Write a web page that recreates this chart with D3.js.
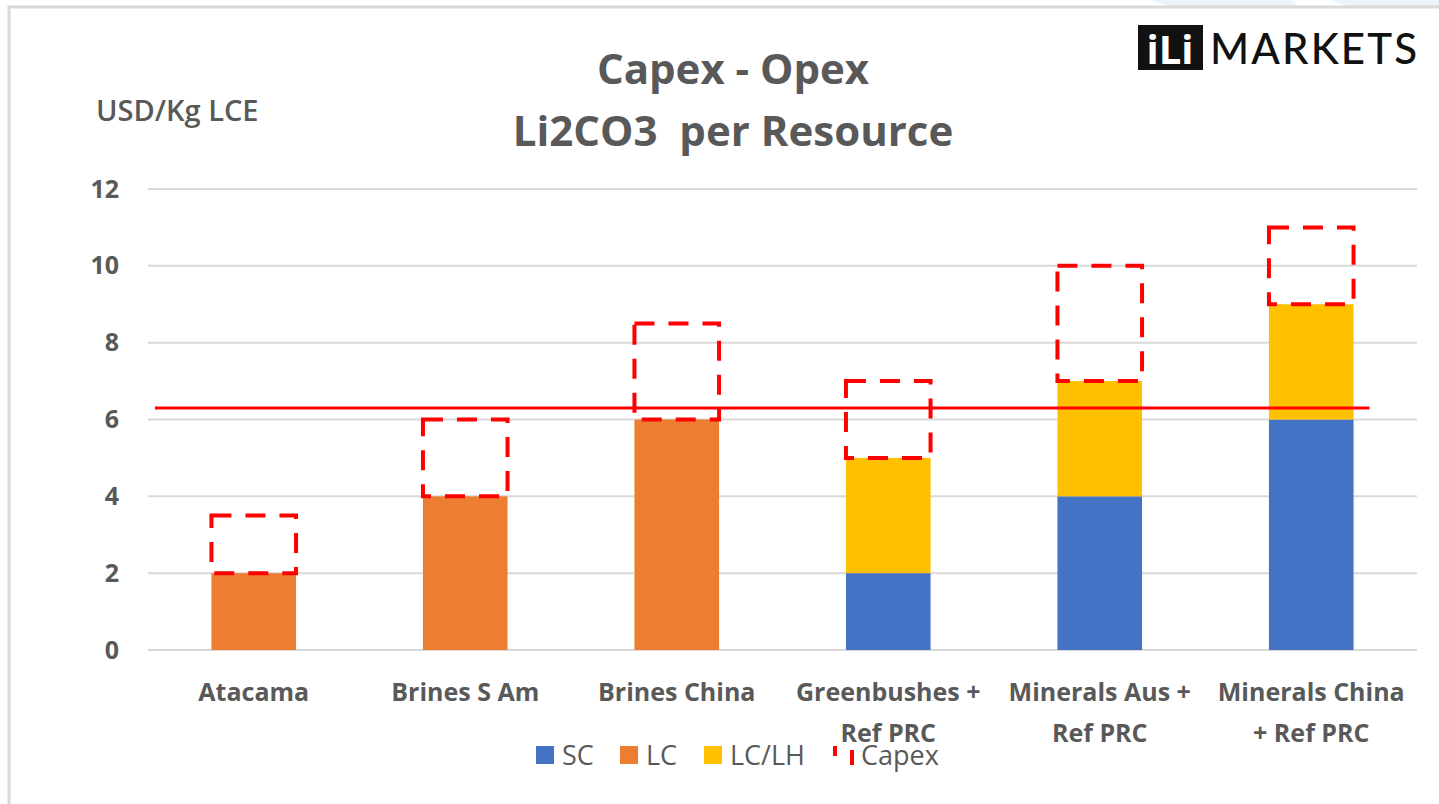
<!DOCTYPE html>
<meta charset="utf-8">
<script src="https://d3js.org/d3.v7.min.js"></script>
<style>
  body { margin: 0; background: #fff; }
  text { font-family: "Open Sans", "Noto Sans", sans-serif; }
</style>
<body>
<div id="chart"></div>
<script>
    // data
    const categories = [
        ["Atacama"],
        ["Brines S Am"],
        ["Brines China"],
        ["Greenbushes +", "Ref PRC"],
        ["Minerals Aus +", "Ref PRC"],
        ["Minerals China", "+ Ref PRC"]
    ];
    const scValues = [0, 0, 0, 2, 4, 6];
    const lcValues = [2, 4, 6, 0, 0, 0];
    const lclhValues = [0, 0, 0, 3, 3, 3];
    const capexValues = [1.5, 2, 2.5, 2, 3, 2];
    const yTicks = [0, 2, 4, 6, 8, 10, 12];
    const refLevel = 6.3;

    const seriesNames = ["SC", "LC", "LC/LH", "Capex"];
    const colours = {"SC": "#4472C4", "LC": "#ED7D31", "LC/LH": "#FFC000", "Capex": "#FF0000"};

    const width = 1439, height = 804;
    const margin = {top: 189, right: 22, bottom: 154, left: 148};

    const svg = d3.select("#chart")
        .append("svg")
        .attr("width", width)
        .attr("height", height);

    // background wedges + frame
    svg.append("path")
        .attr("d", "M1150,0 L1290,0 L1300,7 L1170,7 Z M1330,0 L1439,0 L1439,7 L1350,7 Z")
        .style("fill", "#eaf4fa");
    svg.append("rect")
        .attr("x", 9).attr("y", 7)
        .attr("width", 1500).attr("height", 900)
        .style("fill", "none")
        .style("stroke", "#d9d9d9")
        .style("stroke-width", 3);

    const table = categories.map(function (c, i) {
        return {key: i, label: c, SC: scValues[i], LC: lcValues[i], "LC/LH": lclhValues[i], Capex: capexValues[i]};
    });

    const x = d3.scaleBand()
        .domain(table.map(d => d.key))
        .range([margin.left, width - margin.right])
        .paddingInner(0.6)
        .paddingOuter(0.3);

    const y = d3.scaleLinear()
        .domain([0, 12])
        .range([height - margin.bottom, margin.top]);

    // gridlines
    svg.append("g")
        .selectAll("line")
        .data(yTicks)
        .enter()
        .append("line")
        .attr("x1", margin.left)
        .attr("x2", width - margin.right)
        .attr("y1", d => y(d))
        .attr("y2", d => y(d))
        .style("stroke", "#d9d9d9")
        .style("stroke-width", 2);

    // y axis labels
    const yAxis = svg.append("g")
        .attr("transform", "translate(" + (margin.left - 29) + ",0)")
        .call(d3.axisLeft(y).tickValues(yTicks).tickSize(0).tickPadding(0));
    yAxis.select(".domain").remove();
    yAxis.selectAll("text")
        .style("font-family", "'Open Sans', sans-serif")
        .style("font-size", "25px")
        .style("font-weight", "bold")
        .style("fill", "#595959");

    // stacked bars
    const stack = d3.stack().keys(seriesNames);
    const layers = stack(table);

    const solid = layers.filter(l => l.key !== "Capex");
    svg.append("g")
        .selectAll("g")
        .data(solid)
        .enter()
        .append("g")
        .style("fill", d => colours[d.key])
        .selectAll("rect")
        .data(d => d)
        .enter()
        .append("rect")
        .attr("x", d => x(d.data.key))
        .attr("y", d => y(d[1]))
        .attr("width", x.bandwidth())
        .attr("height", d => y(d[0]) - y(d[1]));

    const capexLayer = layers.find(l => l.key === "Capex");
    svg.append("g")
        .selectAll("rect")
        .data(capexLayer)
        .enter()
        .append("rect")
        .attr("x", d => x(d.data.key))
        .attr("y", d => y(d[1]))
        .attr("width", x.bandwidth())
        .attr("height", d => y(d[0]) - y(d[1]))
        .style("fill", "none")
        .style("stroke", colours.Capex)
        .style("stroke-width", 4)
        .style("stroke-dasharray", "20,14");

    // reference line
    svg.append("line")
        .attr("x1", margin.left + 7)
        .attr("x2", x(5) + x.bandwidth() + 16)
        .attr("y1", y(refLevel))
        .attr("y2", y(refLevel))
        .style("stroke", "#FF0000")
        .style("stroke-width", 3);

    // category labels
    const cat = svg.append("g")
        .selectAll("text")
        .data(table)
        .enter()
        .append("text")
        .attr("x", d => x(d.key) + x.bandwidth() / 2)
        .attr("y", 701)
        .attr("text-anchor", "middle")
        .style("font-size", "25px")
        .style("font-weight", "bold")
        .style("fill", "#595959");
    cat.selectAll("tspan")
        .data(d => d.label)
        .enter()
        .append("tspan")
        .attr("x", function () { return d3.select(this.parentNode).attr("x"); })
        .attr("dy", (d, i) => i === 0 ? 0 : 41)
        .text(d => d);

    // titles
    svg.append("text")
        .attr("x", 733).attr("y", 84)
        .attr("text-anchor", "middle")
        .style("font-size", "42px")
        .style("font-weight", "bold")
        .style("fill", "#595959")
        .text("Capex - Opex");
    svg.append("text")
        .attr("x", 733).attr("y", 146)
        .attr("text-anchor", "middle")
        .style("font-size", "42px")
        .style("font-weight", "bold")
        .style("fill", "#595959")
        .attr("xml:space", "preserve")
        .text("Li2CO3  per Resource");
    svg.append("text")
        .attr("x", 96).attr("y", 121)
        .style("font-size", "29px")
        .style("font-weight", "600")
        .style("fill", "#595959")
        .text("USD/Kg LCE");

    // legend
    const legendX = [536, 620, 704, 832];
    const legend = svg.append("g")
        .selectAll("g")
        .data(seriesNames)
        .enter()
        .append("g")
        .attr("transform", (d, i) => "translate(" + legendX[i] + ",746)");
    legend.filter(d => d !== "Capex")
        .append("rect")
        .attr("width", 18).attr("height", 18)
        .style("fill", d => colours[d]);
    legend.filter(d => d === "Capex")
        .append("path")
        .attr("d", "M3,0 L3,10 M20,4 L20,19")
        .style("stroke", colours.Capex)
        .style("stroke-width", 4)
        .style("fill", "none");
    legend.append("text")
        .attr("x", (d, i) => i === 3 ? 29 : 26)
        .attr("y", 19)
        .style("font-size", "27px")
        .style("fill", "#595959")
        .text(d => d);

    // logo
    svg.append("rect")
        .attr("x", 1138).attr("y", 25)
        .attr("width", 65).attr("height", 45)
        .style("fill", "#111");
    svg.append("text")
        .attr("x", 1170).attr("y", 64)
        .attr("text-anchor", "middle")
        .style("font-size", "40px")
        .style("font-weight", "bold")
        .style("fill", "#fff")
        .text("iLi");
    svg.append("text")
        .attr("x", 1210).attr("y", 64)
        .attr("textLength", 207)
        .style("font-family", "Lato, sans-serif")
        .style("font-size", "42px")
        .style("font-weight", "500")
        .style("fill", "#111")
        .text("MARKETS");
</script>
</body>
